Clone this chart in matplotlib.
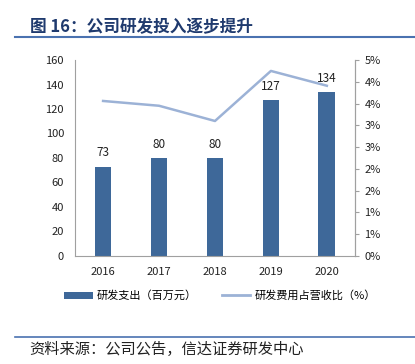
import matplotlib.pyplot as plt
from matplotlib.lines import Line2D
from matplotlib.patches import Patch

plt.rcParams['font.family'] = ['Noto Sans CJK SC', 'DejaVu Sans']

years = ['2016', '2017', '2018', '2019', '2020']
rd_spend = [73, 80, 80, 127, 134]  # 百万元
rd_ratio = [3.56, 3.45, 3.10, 4.25, 3.91]  # %
ratio_ticks = [0, 0.5, 1, 1.5, 2, 2.5, 3, 3.5, 4, 4.5]
ratio_labels = ['0%', '1%', '1%', '2%', '2%', '3%', '3%', '4%', '4%', '5%']

bar_color = '#3e6899'
line_color = '#9cb2d6'
title_color = '#1f3a6e'

fig = plt.figure(figsize=(4.15, 3.64), dpi=100)

# title and header line
fig.text(0.072, 0.925, '图 16：公司研发投入逐步提升', fontsize=12, fontweight='bold',
         color=title_color, va='center')
fig.add_artist(Line2D([0.036, 1.0], [0.898, 0.898], color='#4a72b0', lw=1.5))

ax = fig.add_axes([0.181, 0.297, 0.674, 0.538])
x = range(len(years))
ax.bar(x, rd_spend, width=0.3, color=bar_color)
for xi, v in zip(x, rd_spend):
    ax.text(xi, v + 6, str(v), ha='center', va='bottom', fontsize=8.5, color='#222222')

ax.set_xlim(-0.5, len(years) - 0.5)
ax.set_ylim(0, 160)
ax.set_yticks(range(0, 161, 20))
ax.set_xticks(list(x))
ax.set_xticklabels(years)
ax.tick_params(axis='both', labelsize=8, colors='#222222', length=0, pad=8)
ax.spines['top'].set_visible(False)
for s in ['left', 'bottom', 'right']:
    ax.spines[s].set_color('#a0a0a0')
    ax.spines[s].set_linewidth(0.8)

ax2 = ax.twinx()
ax2.plot(list(x), rd_ratio, color=line_color, lw=1.8)
ax2.set_ylim(0, 4.5)
ax2.set_yticks(ratio_ticks)
ax2.set_yticklabels(ratio_labels)
ax2.tick_params(axis='y', labelsize=8, colors='#222222', length=3, pad=4)
ax2.tick_params(axis='y', color='#a0a0a0')
for s in ['top', 'left', 'bottom']:
    ax2.spines[s].set_visible(False)
ax2.spines['right'].set_color('#a0a0a0')
ax2.spines['right'].set_linewidth(0.8)

handles = [Patch(facecolor=bar_color, edgecolor='none'),
           Line2D([0], [0], color=line_color, lw=2)]
fig.legend(handles, ['研发支出（百万元）', '研发费用占营收比（%）'], loc='center',
           bbox_to_anchor=(0.53, 0.187), ncol=2, frameon=False, fontsize=8,
           handlelength=2.6, columnspacing=2.2, handletextpad=0.4)

# footer
fig.add_artist(Line2D([0.036, 1.0], [0.074, 0.074], color='#4a72b0', lw=1.2))
fig.text(0.07, 0.04, '资料来源：公司公告，信达证券研发中心', fontsize=11,
         color='#222222', va='center')

fig.savefig('out.png', dpi=100)
